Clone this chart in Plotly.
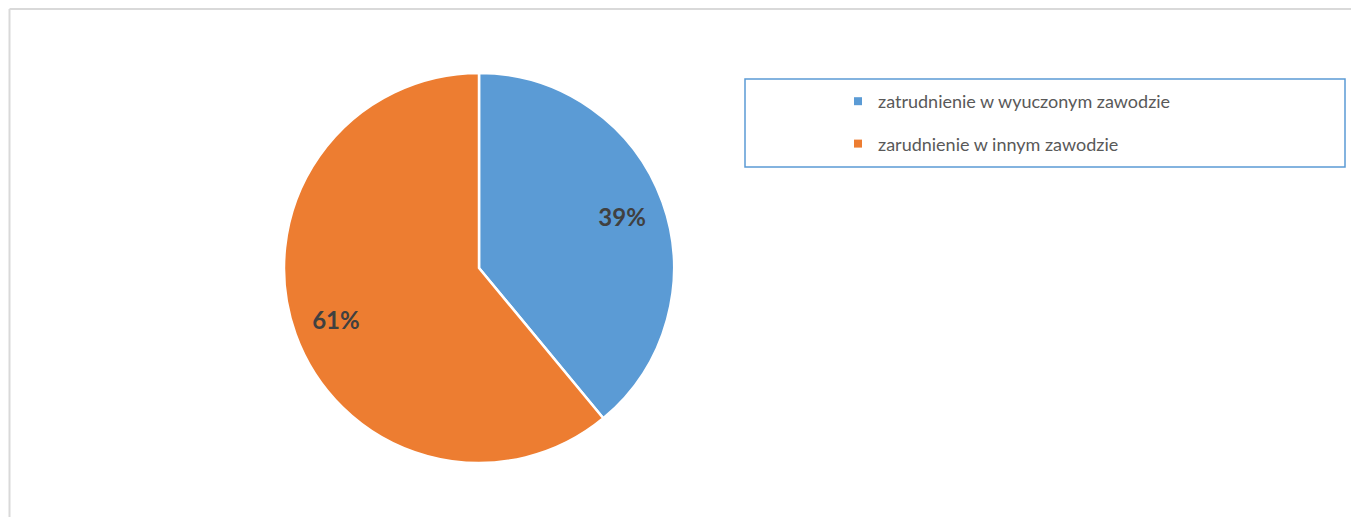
import plotly.graph_objects as go

labels = ["zatrudnienie w wyuczonym zawodzie", "zarudnienie w innym zawodzie"]
values = [39, 61]
colors = ["#5B9BD5", "#ED7D31"]

# page body has an 8px margin; build the figure in page coordinates minus 8
OFF = 8
W, H = 1359 - OFF, 517 - OFF


def px_x(x):
    return (x - OFF) / W


def px_y(y):
    return 1 - (y - OFF) / H


pie_dom = dict(x=[px_x(284), px_x(674)], y=[px_y(463), px_y(73)])

fig = go.Figure()
# the coloured pie
fig.add_trace(go.Pie(
    labels=labels, values=values, sort=False, direction="clockwise", rotation=0,
    marker=dict(colors=colors, line=dict(color="white", width=2.5)),
    textinfo="none", domain=pie_dom,
    showlegend=False, hoverinfo="label+percent",
))
# transparent ring on top that carries the percentage labels further out
fig.add_trace(go.Pie(
    labels=labels, values=values, sort=False, direction="clockwise", rotation=0,
    hole=0.56,
    marker=dict(colors=["rgba(0,0,0,0)"] * len(values), line=dict(width=0)),
    texttemplate="%{percent:.0%}", textposition="inside", insidetextorientation="horizontal",
    textfont=dict(family="Lato", size=24, color="#404040", weight="bold"),
    domain=pie_dom, showlegend=False, hoverinfo="skip",
))
for i, (lab, col) in enumerate(zip(labels, colors)):
    fig.add_trace(go.Scatter(
        x=[None], y=[None], mode="markers", name=lab,
        marker=dict(symbol="square", size=8, color=col),
        legendgroup=f"g{i}", showlegend=True,
    ))

fig.update_layout(
    width=W, height=H,
    margin=dict(l=0, r=0, t=0, b=0),
    paper_bgcolor="white", plot_bgcolor="white",
    xaxis=dict(visible=False), yaxis=dict(visible=False),
    legend=dict(
        x=px_x(838), y=px_y(83), xanchor="left", yanchor="top",
        bgcolor="rgba(0,0,0,0)", borderwidth=0,
        font=dict(family="Lato", size=18, color="#595959"),
        tracegroupgap=16, itemclick=False,
    ),
    shapes=[
        dict(type="rect", xref="paper", yref="paper",
             x0=px_x(745), x1=px_x(1345), y0=px_y(167), y1=px_y(79),
             line=dict(color="#5B9BD5", width=1.5), fillcolor="rgba(0,0,0,0)"),
        dict(type="line", xref="paper", yref="paper",
             x0=px_x(9.5), x1=1, y0=px_y(9), y1=px_y(9),
             line=dict(color="#D9D9D9", width=2)),
        dict(type="line", xref="paper", yref="paper",
             x0=px_x(9.5), x1=px_x(9.5), y0=0, y1=px_y(9),
             line=dict(color="#D9D9D9", width=2)),
    ],
)

fig.write_html("out.html")
